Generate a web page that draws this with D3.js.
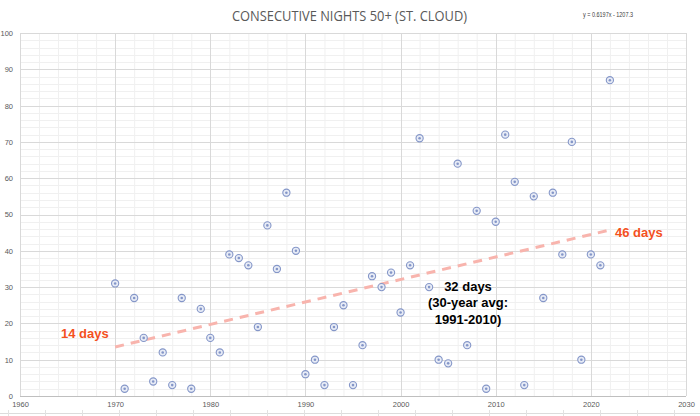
<!DOCTYPE html>
<html><head><meta charset="utf-8">
<script src="https://cdn.jsdelivr.net/npm/d3@7/dist/d3.min.js"></script>
<style>body{margin:0;background:#fff}svg{display:block}</style>
</head><body>
<svg id="chart" width="700" height="416"></svg>
<script>
const years = d3.range(1970, 2023);
const nights = [31,2,27,16,4,12,3,27,2,24,16,12,39,38,36,19,47,35,56,40,6,10,3,19,25,3,14,33,30,34,23,36,71,30,10,9,64,14,51,2,48,72,59,3,55,27,56,39,70,10,39,36,87];
const xTicks = [1960,1970,1980,1990,2000,2010,2020,2030];
const yTicks = [0,10,20,30,40,50,60,70,80,90,100];
const trendSlope = 0.6197, trendIntercept = -1207.3;
const trendYears = [1970, 2022];
const title = "CONSECUTIVE NIGHTS 50+ (ST. CLOUD)";
const equation = "y = 0.6197x - 1207.3";

const svg = d3.select("#chart");
const x = d3.scaleLinear().domain([1960, 2030]).range([20, 686]);
const y = d3.scaleLinear().domain([0, 100]).range([396, 33]);

// minor grid
const g = svg.append("g");
g.selectAll(".mvx").data(d3.range(1962, 2030, 2).filter(v => v % 10)).join("line")
  .attr("x1", d => x(d)+0.5).attr("x2", d => x(d)+0.5).attr("y1", y(100)).attr("y2", y(0))
  .attr("stroke", "#f0f0f0");
g.selectAll(".mhy").data(d3.range(2, 100, 2).filter(v => v % 10)).join("line")
  .attr("y1", d => Math.round(y(d))+0.5).attr("y2", d => Math.round(y(d))+0.5).attr("x1", x(1960)).attr("x2", x(2030))
  .attr("stroke", "#f0f0f0");
// major grid
g.selectAll(".vx").data(xTicks).join("line")
  .attr("x1", d => Math.round(x(d))+0.5).attr("x2", d => Math.round(x(d))+0.5).attr("y1", y(100)).attr("y2", y(0))
  .attr("stroke", "#d9d9d9");
g.selectAll(".hy").data(yTicks).join("line")
  .attr("y1", d => Math.round(y(d))+0.5).attr("y2", d => Math.round(y(d))+0.5).attr("x1", x(1960)).attr("x2", x(2030))
  .attr("stroke", d => d === 0 ? "#bfbfbf" : "#d9d9d9");

// axes labels
const xAxis = d3.axisBottom(x).tickValues(xTicks).tickFormat(d3.format("d")).tickSize(0).tickPadding(6);
const xg = svg.append("g").attr("transform", `translate(0,${y(0)})`).call(xAxis);
xg.select(".domain").remove();
xg.selectAll("text").attr("font-family", "Liberation Sans, Arial, sans-serif").attr("font-size", 7.5).attr("fill", "#595959");
const yAxis = d3.axisLeft(y).tickValues(yTicks).tickSize(0).tickPadding(7);
const yg = svg.append("g").attr("transform", `translate(${x(1960)},0)`).call(yAxis);
yg.select(".domain").remove();
yg.selectAll("text").attr("font-family", "Liberation Sans, Arial, sans-serif").attr("font-size", 7.5).attr("fill", "#595959");

// bottom spreadsheet strip
svg.append("line").attr("x1", 0).attr("x2", 700).attr("y1", 413.5).attr("y2", 413.5).attr("stroke", "#dcdcdc");
svg.selectAll(".sep").data(d3.range(8, 700, 37)).join("line")
  .attr("x1", d => d+0.5).attr("x2", d => d+0.5).attr("y1", 410).attr("y2", 416).attr("stroke", "#e2e2e2");

// trend line
svg.append("line")
  .attr("x1", x(trendYears[0])).attr("y1", y(trendSlope*trendYears[0]+trendIntercept))
  .attr("x2", x(trendYears[1])).attr("y2", y(trendSlope*trendYears[1]+trendIntercept))
  .attr("stroke", "#f8b4ad").attr("stroke-width", 3).attr("stroke-dasharray", "9,7");

// points
const data = years.map((yr, i) => ({yr, v: nights[i]}));
const pts = svg.append("g").selectAll("g").data(data).join("g")
  .attr("transform", d => `translate(${x(d.yr)},${y(d.v)})`);
pts.append("circle").attr("r", 3.6).attr("fill", "#e8ecf6").attr("stroke", "#8496c8").attr("stroke-width", 1.1);
pts.append("circle").attr("r", 1.3).attr("fill", "#8496c8");

// annotations
const ann = svg.append("g").attr("font-family", "Liberation Sans, Arial, sans-serif").attr("font-weight", "bold").attr("font-size", 13);
ann.append("text").attr("x", 61).attr("y", 337.5).attr("fill", "#f4511e").text("14 days");
ann.append("text").attr("x", 615).attr("y", 236.5).attr("fill", "#f4511e").text("46 days");
const mid = ann.append("text").attr("text-anchor", "middle").attr("fill", "#000");
[["32 days", 290.5], ["(30-year avg:", 307], ["1991-2010)", 323.5]].forEach(([t, yy]) =>
  mid.append("tspan").attr("x", 468).attr("y", yy).text(t));

// title & equation
svg.append("text").attr("x", 232).attr("y", 21).attr("font-family", "Open Sans, sans-serif").attr("font-size", 14)
  .attr("fill", "#595959").attr("textLength", 235).attr("lengthAdjust", "spacingAndGlyphs").text(title);
svg.append("text").attr("x", 583).attr("y", 16.5).attr("font-family", "Liberation Sans, Arial, sans-serif").attr("font-size", 6.5)
  .attr("fill", "#404040").attr("textLength", 50).attr("lengthAdjust", "spacingAndGlyphs").text(equation);
</script>
</body></html>
